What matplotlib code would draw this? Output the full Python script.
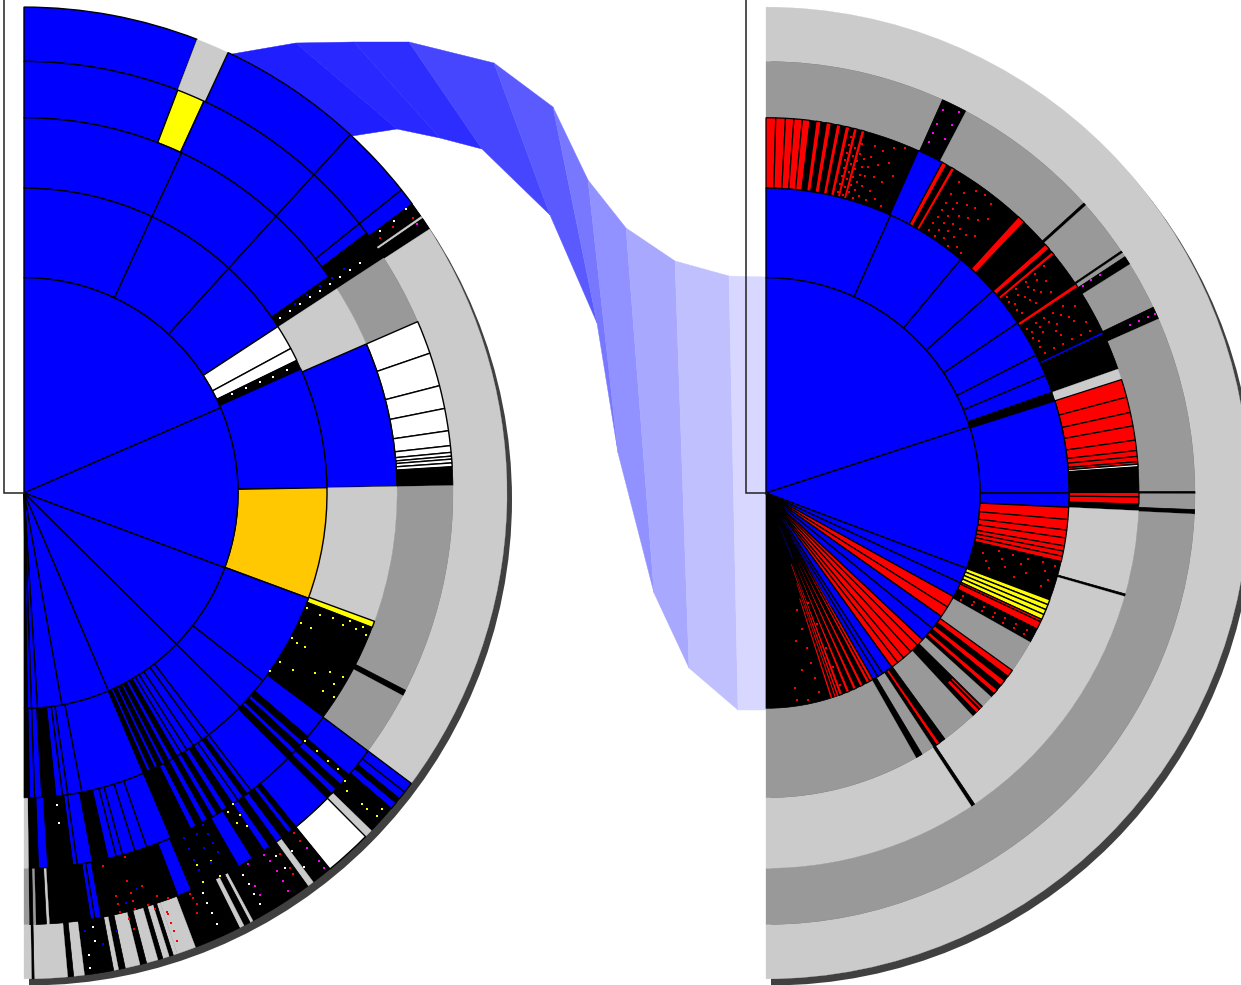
import matplotlib
matplotlib.use('Agg')
import matplotlib.pyplot as plt
from matplotlib.patches import Wedge, Polygon
from matplotlib.transforms import Affine2D
import numpy as np

W, H = 1241, 985

# ring radii in pixels, centre outwards
RADII = [0, 214, 303, 373, 429, 483]
Y_STRETCH = 1.006  # the source picture is a touch taller than wide

# left tree: slice edges in degrees, one letter per slice
L1_E = [90, 23.3, -20.3, -44.6, -66.8, -79.8, -86.4, -88, -89.1, -90]
L1_K = 'bbbbbbbbk'
L2_E = [90, 65, 47.5, 33.1, 28.3, 25.8, 24, 1, -20.2, -38, -44.6, -52.5, -54, -56, -57.5, -58.7, -59.7,
        -60.6, -61.5, -62.3, -63, -63.8, -64.5, -65.3, -66, -66.8, -79, -81.7, -82.7, -84, -85, -86.6, -88, -89, -90]
L2_K = 'bbbwwkbobbb' + 'bbbbb' + 'kbkbkbkbk' + 'bbbb' + 'kk' + 'bb' + 'k'
L3_E = [90, 65, 47.5, 35.2, 33, 23.4, 1, -20, -21, -36.6, -40.5, -41.5, -42.3, -43.2, -44, -45, -52.5,
        -53.3, -54, -55, -56, -57, -58, -58.8, -59.7, -60.5, -61.5, -62.5, -63.5, -64.5, -65.5, -66.8,
        -70.8, -72.7, -74.7, -75.7, -77, -79.4, -81.8, -82.5, -86.3, -87.8, -89.3, -90]
L3_K = 'bbbkgbgykb' + 'kbkbkb' + 'bkbbkbkbkbkbkkk' + 'bbbbb' + 'kbbkbkg'
L4_E = [90, 69, 65.2, 47.5, 38.6, 37, 33, 23.4, 18.9, 14.4, 11.3, 8.3, 6.3, 5.4, 4.9, 4.5, 4, 3.5, 3, 1,
        -27.2, -28, -36.7, -40.8, -41.5, -42.5, -43.3, -44.2, -45, -50.7, -51.3, -52, -53, -54, -55, -56,
        -57.8, -60, -67, -69, -79.6, -80.5, -81.1, -86.6, -87, -88.4, -88.8, -89.3, -90]
L4_K = 'bybbbkd' + 'wwwwwwwwww' + 'kk' + 'dkdb' + 'kbkbkb' + 'kbkbkbkbk' + 'bkbbkgkdkd'
L5_E = [90, 69, 65, 47.5, 38.6, 36.5, 34.7, 34.4, 32.9, -36.7, -38, -39, -39.6, -40.5, -42, -44, -45, -50.7,
        -53.2, -54, -61.7, -62.1, -62.9, -63.5, -64.5, -69.2, -71.5, -72, -72.5, -73.3, -73.9, -75.3, -76.1,
        -77.9, -78.7, -79.3, -82.8, -84.1, -84.8, -88.8, -89.1, -90]
L5_K = 'bgbbbkgkg' + 'bbkbkkg' + 'w' + 'kgkgkgkk' + 'ggkgkgkgkgkgkgkg'

# right tree
R1_E = [90, 17.9, -20.5, -24.7, -28.8, -32, -35, -39, -43, -45, -47.5, -50, -52, -54, -57, -58.5, -60, -61,
        -62, -63, -64, -65, -66, -67, -68, -69, -70, -90]
R1_K = 'bbbbrrbb' + 'rrrrr' + 'bbbr' + 'rkrkrkrkr' + 'k'
R2_E = [90, 65.7, 50, 41.5, 33.9, 26.9, 22.7, 19.3, 17.6, 0, -2.7, -5, -7, -8.5, -10, -11, -12, -13, -20.5,
        -21.5, -22.5, -23.5, -24.5, -25, -26.5, -29.3, -35.6, -37, -38, -39.2, -40.2, -41.2, -42, -44.4, -47,
        -53.8, -55, -55.8, -56.5, -59, -60.3, -90]
R2_K = 'bbbbbbbkbb' + 'rrrrrrr' + 'k' + 'yyyy' + 'rrk' + 'd' + 'rkrkrk' + 'dk' + 'd' + 'krk' + 'dkd'
R3_E = [90, 88.5, 87, 85.7, 84.4, 83.2, 82.3, 81.5, 80.7, 79.9, 79.1, 78.4, 77.7, 77, 76.4, 75.8, 75.2, 74.6, 65.9, 61.8,
        61, 60.2, 59.6, 59, 50, 47.4, 46.2, 45.4, 41.5, 40.6, 40, 39.4, 38.8, 33.9, 33.2, 33, 32.4, 25.5, 25, 19.3,
        17.6, 14.8, 12.4, 10.3, 8.1, 6.5, 5.6, 4.8, 4.4, 4, 0.1, -0.6, -1.7, -2.7, -15.6, -16, -56, -56.6, -90]
R3_K = 'rrrrrkrkrkrkr' + 'krkr' + 'k' + 'b' + 'rkrk' + 'k' + 'krkk' + 'rkrk' + 'k' + 'rb' + 'kk' + 'bk' + 'g' + 'rrrrrrrr' + 'w' + 'k' + 'rrk' + 'gkgkg'
R4_E = [90, 65.7, 62.2, 42.2, 41.8, 34.1, 33.8, 33.2, 32, 25.5, 23.8, 0.2, -0.1, -2.2, -2.8, -90]
R4_K = 'dkdkdkdkdkdkdkd'
R5_E = [90, -90]
R5_K = 'g'

# thin bits that only fill part of a ring: first angle, last angle, inner r, outer r, kind
R_PIECES = [(-46, -45.4, 262, 303, 'r'), (-45, -44.7, 262, 303, 'r'), (-72.4, -72, 110, 214, 'r'),
            (-70.6, -70.2, 75, 214, 'r'), (-71.3, -71, 95, 214, 'r'), (-58.4, -58, 30, 80, 'b'),
            (-60, -59.6, 50, 130, 'b'), (-68, -67.6, 35, 70, 'b')]

# small dots: angle, radius
L_YELLOW_A = [-22.2, -21.9, -21.4, -21.4, -22, -25, -25, -22.3, -22.2, -22.4, -28.3, -28.7, -28.5, -33.2, -33.2, -35.8,
              -31.6, -30.1, -29.8, -31.5, -33.4, -33.2, -64.9, -65.1, -62.9, -62.8, -55.9, -55.9, -56.1, -57.2, -57,
              -41.2, -41.2, -41.2, -41.1, -41.7, -42.5, -42.5, -42.5, -42.3, -41.3]
L_YELLOW_R = [320, 333, 350, 364, 305, 306, 317, 345, 359, 370, 304, 311, 320, 306, 322, 303,
              342, 354, 368, 363, 358, 370, 408, 426, 411, 428, 373, 386, 399, 377, 391,
              374, 389, 404, 417, 430, 438, 458, 465, 477, 476]
L_RED_A = [-78, -74.4, -75, -73.2, -75, -77, -77, -77, -75, -75, -73.2, -71.6, -72.4, -70.3, -71, -76, -75.8, -71, -71, -71,
           -71, -67.4, -67.2, -67, -67.5, -51.4, -51.4, -54.5, -54.5, -54.6, 35.1, 35.6, 35.5]
L_RED_R = [379, 376, 399, 408, 412, 411, 419, 427, 428, 420, 428, 422, 434, 428, 440, 436, 447, 443, 452, 461,
           471, 432, 437, 444, 452, 432, 442, 441, 458, 465, 476, 454, 437]
L_PINK_A = [-58.7, -59.4, -59.4, -56.3, -56.1, -56.1, -56.1, -56.3, -51.3, -51.2, -51.2, 34.2]
L_PINK_R = [432, 454, 464, 432, 441, 453, 465, 476, 452, 470, 478, 475]
L_WHITE_A = [-83.9, -83.9, -80.9, -81, -82, -82, 36.4, 36.2, 36.2, 25.4, 25.3, 25, 24.9, 25, -55, -55, -53, -53,
             34.2, 34.2, 34.2, 34.2, 34.2, 34.2, 34.2, 34.2, 34.2, -65.8, -65.8, -65.8, -65.8, -60, -60, -60, -60]
L_WHITE_R = [312, 330, 437, 451, 464, 477, 475, 458, 441, 230, 245, 260, 275, 290, 440, 455, 445, 465,
             310, 322, 334, 346, 358, 370, 382, 394, 406, 436, 447, 458, 470, 438, 449, 460, 472]
L_BLUE_A = [-65, -65, -65, -65, -63, -63, -63, -61.5, -61.5, -61.5, -61.5, -82, -80, -78, -76, -74, 34.8, 34.8, 34.8, 34.8, 34.8]
L_BLUE_R = [378, 390, 402, 414, 380, 396, 412, 376, 386, 396, 406, 440, 455, 445, 420, 410, 330, 345, 360, 375, 390]

R_RED_A = [76.5] * 8 + [75.5] * 7 + [74.5] * 7 + [73.5] * 6 + [72.5] * 6 + [71] * 5 + [69.5] * 4 + [68] * 3 \
    + [58] * 7 + [56.5] * 7 + [55] * 6 + [53.5] * 6 + [52] * 4 + [50.8] * 3 \
    + [39] * 5 + [38] * 4 + [37] * 4 + [36] * 3 + [35] * 3 \
    + [32] * 5 + [31] * 5 + [30] * 4 + [29] * 3 + [28] * 3 + [26.5] * 6 \
    + [-14] * 5 + [-15.5] * 4 + [-17] * 4 + [-18.5] * 3 + [-27.5] * 7 + [-28.5] * 7 \
    + [-75] * 6 + [-78.4] * 3 + [-81.5] * 2 + [-68.8] * 5
R_RED_R = [308, 316, 324, 332, 340, 348, 356, 364, 306, 314, 322, 330, 338, 346, 354, 310, 318, 326, 334, 342, 350, 360,
           306, 314, 322, 330, 338, 346, 310, 320, 330, 340, 350, 362, 308, 318, 332, 345, 360, 312, 330, 350, 366, 308, 340, 370,
           308, 316, 324, 332, 340, 350, 364, 306, 314, 322, 330, 338, 346, 358, 310, 318, 326, 336, 350, 366, 306, 316, 326, 340, 352, 368,
           310, 325, 345, 365, 308, 330, 352,
           310, 322, 334, 346, 358, 308, 320, 332, 344, 312, 324, 336, 350, 310, 326, 340, 312, 330, 348,
           308, 318, 328, 338, 350, 310, 320, 330, 344, 360, 308, 320, 336, 350, 312, 332, 352, 310, 334, 362, 312, 322, 332, 342, 352, 362,
           240, 255, 270, 285, 298, 225, 245, 265, 290, 230, 250, 272, 295, 235, 262, 290, 222, 234, 246, 258, 270, 282, 294, 222, 234, 246, 258, 270, 282, 294,
           120, 140, 160, 175, 190, 205, 150, 180, 210, 196, 208, 117, 140, 165, 185, 205]
R_PINK_A = [65, 65, 65, 65, 63, 63, 63, 33, 33, 33, 24.6, 24.6, 24.6, 24.6]
R_PINK_R = [385, 395, 405, 420, 395, 410, 425, 378, 388, 398, 400, 410, 420, 428]

# ribbon between the two trees
RIBBON_TOP_X = [232, 296, 354, 409, 494, 553, 588, 626, 675, 729, 767]
RIBBON_TOP_Y = [54, 43, 42, 42, 63, 107, 180, 228, 261, 276, 277]
RIBBON_BOT_X = [352, 397, 440, 482, 550, 597, 618, 654, 689, 738, 767]
RIBBON_BOT_Y = [136, 129, 138, 149, 215, 323, 453, 593, 668, 710, 710]
RIBBON_SHADE = [30, 40, 45, 70, 90, 120, 145, 168, 192, 215]

CENTERS = {'left': (24, H - 493), 'right': (766, H - 493)}
SHADOW_OFFSET = (5, -6.5)

COLORS = {'b': '#0000ff', 'k': '#000000', 'w': '#ffffff', 'g': '#cbcbcb', 'd': '#999999',
          'y': '#ffff00', 'o': '#ffc800', 'r': '#ff0000'}
LINE_WIDTHS = {'b': 1.0, 'w': 1.0, 'y': 1.0, 'o': 1.0, 'r': 0.9, 'k': 0.5, 'g': 0.2, 'd': 0.2}


def stretched(side, ax):
    cx, cy = CENTERS[side]
    return Affine2D().translate(-cx, -cy).scale(1, Y_STRETCH).translate(cx, cy) + ax.transData


def ring(ax, side, level, edges, kinds):
    assert len(edges) == len(kinds) + 1, (side, level, len(edges), len(kinds))
    cx, cy = CENTERS[side]
    tr = stretched(side, ax)
    for i, kind in enumerate(kinds):
        ec = 'black' if kind in 'bkwyor' else COLORS[kind]
        ax.add_patch(Wedge((cx, cy), RADII[level], edges[i + 1], edges[i], width=RADII[level] - RADII[level - 1],
                           facecolor=COLORS[kind], edgecolor=ec, linewidth=LINE_WIDTHS[kind], transform=tr))


def dots(ax, side, angles, radii, color):
    cx, cy = CENTERS[side]
    a = np.radians(angles)
    r = np.array(radii)
    ax.scatter(cx + r * np.cos(a), cy + r * np.sin(a) * Y_STRETCH, s=3, marker='s', color=color, linewidths=0, zorder=5)


fig = plt.figure(figsize=(W / 100, H / 100), dpi=100)
ax = fig.add_axes([0, 0, 1, 1])
ax.set_xlim(0, W)
ax.set_ylim(0, H)
ax.axis('off')

# ribbon first, the trees sit on top
for i, shade in enumerate(RIBBON_SHADE):
    pts = [(RIBBON_TOP_X[i], H - RIBBON_TOP_Y[i]), (RIBBON_TOP_X[i + 1], H - RIBBON_TOP_Y[i + 1]),
           (RIBBON_BOT_X[i + 1], H - RIBBON_BOT_Y[i + 1]), (RIBBON_BOT_X[i], H - RIBBON_BOT_Y[i])]
    c = (shade / 255, shade / 255, 1)
    ax.add_patch(Polygon(pts, closed=True, facecolor=c, edgecolor=c, linewidth=0.3))

# corner frames and drop shadows
for side in CENTERS:
    cx, cy = CENTERS[side]
    ax.plot([cx - 20, cx - 20, cx], [H, cy, cy], color='#222222', linewidth=1.1, solid_joinstyle='miter')
    ax.add_patch(Wedge((cx + SHADOW_OFFSET[0], cy + SHADOW_OFFSET[1]), RADII[-1], -90, 90,
                       facecolor='#404040', edgecolor='none', transform=stretched(side, ax)))

for level, (e, k) in enumerate([(L5_E, L5_K), (L4_E, L4_K), (L3_E, L3_K), (L2_E, L2_K), (L1_E, L1_K)]):
    ring(ax, 'left', 5 - level, e, k)
for level, (e, k) in enumerate([(R5_E, R5_K), (R4_E, R4_K), (R3_E, R3_K), (R2_E, R2_K), (R1_E, R1_K)]):
    ring(ax, 'right', 5 - level, e, k)

cx, cy = CENTERS['right']
for a0, a1, r0, r1, kind in R_PIECES:
    ax.add_patch(Wedge((cx, cy), r1, a0, a1, width=r1 - r0, facecolor=COLORS[kind], edgecolor='none',
                       transform=stretched('right', ax)))

dots(ax, 'left', L_YELLOW_A, L_YELLOW_R, '#ffff00')
dots(ax, 'left', L_RED_A, L_RED_R, '#ff0000')
dots(ax, 'left', L_PINK_A, L_PINK_R, '#ff00ff')
dots(ax, 'left', L_WHITE_A, L_WHITE_R, '#ffffff')
dots(ax, 'left', L_BLUE_A, L_BLUE_R, '#0000ff')
dots(ax, 'right', R_RED_A, R_RED_R, '#ff0000')
dots(ax, 'right', R_PINK_A, R_PINK_R, '#ff00ff')

fig.savefig('out.png', dpi=100)
